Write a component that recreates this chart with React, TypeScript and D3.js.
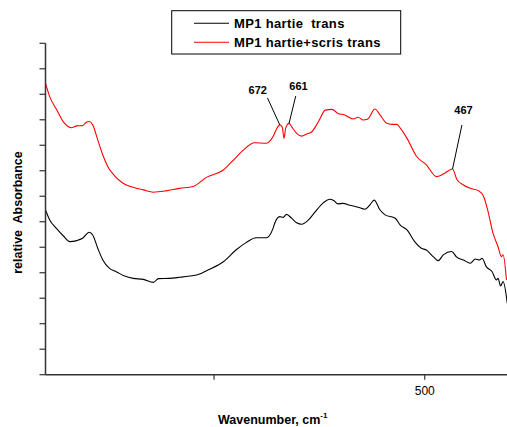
import { FC, useEffect, useRef } from 'react';
import * as d3 from 'd3';

// red trace: MP1 hartie+scris trans
const scrisWavenumber = [950, 945, 937, 929, 919, 913, 906, 902, 898, 894, 888, 882, 876, 868, 858, 846, 834, 822, 807, 791, 775, 759, 739, 727, 716, 702, 688, 680, 676, 672, 669, 667, 665, 661, 658, 652, 646, 640, 634, 626, 618, 610, 603, 595, 585, 579, 573, 568, 559, 553, 545, 539, 533, 529, 521, 510, 498, 486, 478, 467, 462, 454, 446, 436, 430, 425, 419, 413, 409, 407, 403];
const scrisAbs = [11.43, 10.91, 10.41, 9.93, 9.69, 9.76, 9.77, 9.89, 9.93, 9.8, 9.21, 8.62, 8.16, 7.8, 7.51, 7.35, 7.25, 7.16, 7.21, 7.31, 7.38, 7.74, 8.03, 8.42, 8.79, 9.1, 9.08, 9.34, 9.63, 9.8, 9.71, 9.27, 9.67, 9.86, 9.73, 9.47, 9.36, 9.44, 9.53, 9.93, 10.38, 10.41, 10.25, 10.19, 10.03, 10.1, 9.99, 10.02, 10.42, 10.19, 9.86, 9.82, 9.82, 9.67, 9.27, 8.58, 8.23, 7.77, 7.87, 8.07, 7.67, 7.44, 7.31, 7.22, 6.98, 6.42, 5.55, 5.02, 4.63, 4.7, 3.72];

// black trace: MP1 hartie trans
const hartieWavenumber = [950, 945, 937, 929, 921, 913, 906, 898, 894, 888, 882, 874, 866, 856, 846, 834, 822, 816, 803, 791, 779, 767, 759, 739, 724, 712, 700, 688, 680, 678, 672, 668, 664, 658, 652, 646, 638, 630, 620, 613, 608, 603, 597, 589, 579, 571, 565, 560, 553, 547, 535, 529, 521, 512, 504, 498, 490, 484, 478, 468, 462, 454, 446, 440, 435, 432, 427, 420, 415, 413, 410, 407, 402];
const hartieAbs = [6.46, 6.07, 5.74, 5.45, 5.22, 5.26, 5.35, 5.59, 5.48, 4.96, 4.5, 4.17, 4.04, 3.87, 3.78, 3.74, 3.62, 3.77, 3.78, 3.82, 3.87, 3.95, 4.08, 4.43, 4.89, 5.18, 5.37, 5.37, 5.74, 5.94, 6.2, 6.17, 6.29, 6.14, 5.96, 5.9, 6.07, 6.39, 6.75, 6.88, 6.83, 6.7, 6.72, 6.65, 6.57, 6.49, 6.66, 6.85, 6.46, 6.27, 6.14, 5.87, 5.68, 5.22, 4.96, 4.89, 4.63, 4.47, 4.7, 4.83, 4.61, 4.5, 4.37, 4.54, 4.5, 4.57, 4.24, 4.04, 3.72, 3.78, 3.48, 3.65, 2.8];

const seriesNames = ['MP1 hartie  trans', 'MP1 hartie+scris trans'];
const seriesColors = ['#000000', '#ff0000'];

const xTickValues = [750, 500];
const xTickLabels = ['', '500'];
const yTickValues = d3.range(0, 14);

// labelled bands on the red trace
const peakWavenumbers = [672, 661, 467];
const peakLabels = ['672', '661', '467'];

const FONT = 'Arial, "Liberation Sans", Helvetica, sans-serif';

const Chart: FC = () => {
  const svgRef = useRef<SVGSVGElement>(null);

  useEffect(() => {
    if (!svgRef.current) return;
    const svg = d3.select(svgRef.current);
    svg.selectAll('*').remove();

    const width = 507;
    const height = 427;
    const left = 45.5;
    const bottom = 374.7;
    const top = 43.3;

    svg.attr('width', width).attr('height', height);

    const x = d3.scaleLinear().domain([950, 400]).range([left, 509]);
    const y = d3.scaleLinear().domain([0, 13]).range([bottom, top]);

    const line = d3.line<[number, number]>()
        .x(d => x(d[0]))
        .y(d => y(d[1]))
        .curve(d3.curveMonotoneX);

    const hartie = hartieWavenumber.map((w, i) => [w, hartieAbs[i]] as [number, number]);
    const scris = scrisWavenumber.map((w, i) => [w, scrisAbs[i]] as [number, number]);

    svg.append('defs').append('clipPath').attr('id', 'plot-clip')
        .append('rect').attr('x', left).attr('y', 0).attr('width', width - left).attr('height', bottom);

    const plot = svg.append('g').attr('clip-path', 'url(#plot-clip)');
    [hartie, scris].forEach((pts, i) => {
      plot.append('path')
          .attr('d', line(pts))
          .attr('fill', 'none')
          .attr('stroke', seriesColors[i])
          .attr('stroke-width', 1.1)
          .attr('stroke-linejoin', 'round');
    });

    // axes
    const axisColor = '#333';
    svg.append('line')
        .attr('x1', left).attr('x2', left).attr('y1', top).attr('y2', bottom)
        .attr('stroke', axisColor).attr('stroke-width', 1.5);
    svg.append('line')
        .attr('x1', left).attr('x2', width).attr('y1', bottom).attr('y2', bottom)
        .attr('stroke', axisColor).attr('stroke-width', 1.5);

    yTickValues.forEach(v => {
      svg.append('line')
          .attr('x1', left - 6).attr('x2', left)
          .attr('y1', y(v)).attr('y2', y(v))
          .attr('stroke', axisColor).attr('stroke-width', 1.2);
    });

    xTickValues.forEach((v, i) => {
      svg.append('line')
          .attr('x1', x(v)).attr('x2', x(v))
          .attr('y1', bottom).attr('y2', bottom + 5)
          .attr('stroke', axisColor).attr('stroke-width', 1.2);
      svg.append('text')
          .attr('x', x(v)).attr('y', 395)
          .attr('text-anchor', 'middle')
          .attr('font-family', FONT).attr('font-size', 12)
          .attr('fill', '#000')
          .text(xTickLabels[i]);
    });

    // axis titles
    const xt = svg.append('text')
        .attr('x', 218).attr('y', 424)
        .attr('font-family', FONT).attr('font-size', 12.5).attr('font-weight', 'bold');
    xt.append('tspan').text('Wavenumber, cm');
    xt.append('tspan').attr('font-size', 8).attr('dy', -6).text('-1');

    svg.append('text')
        .attr('transform', `translate(22,${(153 + 272) / 2}) rotate(-90)`)
        .attr('text-anchor', 'middle')
        .attr('font-family', FONT).attr('font-size', 12.5).attr('font-weight', 'bold')
        .attr('xml:space', 'preserve')
        .text('relative  Absorbance');

    // peak annotations
    const lineOffsets = [[-12.3, -27], [6.7, -27.3], [9.4, -44]];
    const textOffsets = [[-22, -31], [9.4, -33.5], [11, -55]];
    peakWavenumbers.forEach((w, i) => {
      const j = scrisWavenumber.indexOf(w);
      const px = x(w);
      const py = y(scrisAbs[j]);
      svg.append('line')
          .attr('x1', px).attr('y1', py)
          .attr('x2', px + lineOffsets[i][0]).attr('y2', py + lineOffsets[i][1])
          .attr('stroke', '#000').attr('stroke-width', 1);
      svg.append('text')
          .attr('x', px + textOffsets[i][0]).attr('y', py + textOffsets[i][1])
          .attr('text-anchor', 'middle')
          .attr('font-family', FONT).attr('font-size', 11).attr('font-weight', 'bold')
          .text(peakLabels[i]);
    });

    // legend
    const legend = svg.append('g');
    legend.append('rect')
        .attr('x', 171.7).attr('y', 10.7).attr('width', 229).attr('height', 43.3)
        .attr('fill', '#fff').attr('stroke', '#000').attr('stroke-width', 1);
    seriesNames.forEach((name, i) => {
      const ly = 23.3 + i * 19;
      legend.append('line')
          .attr('x1', 194).attr('x2', 229).attr('y1', ly).attr('y2', ly)
          .attr('stroke', seriesColors[i]).attr('stroke-width', 1.1);
      legend.append('text')
          .attr('x', 234).attr('y', ly + 5)
          .attr('font-family', FONT).attr('font-size', 13).attr('font-weight', 'bold')
          .attr('letter-spacing', 0.35)
          .attr('xml:space', 'preserve')
          .text(name);
    });
  }, []);

  return <svg ref={svgRef} style={{ position: 'absolute', left: 0, top: 0, background: '#fff' }} />;
};

export default function App() {
  return <Chart />;
}
